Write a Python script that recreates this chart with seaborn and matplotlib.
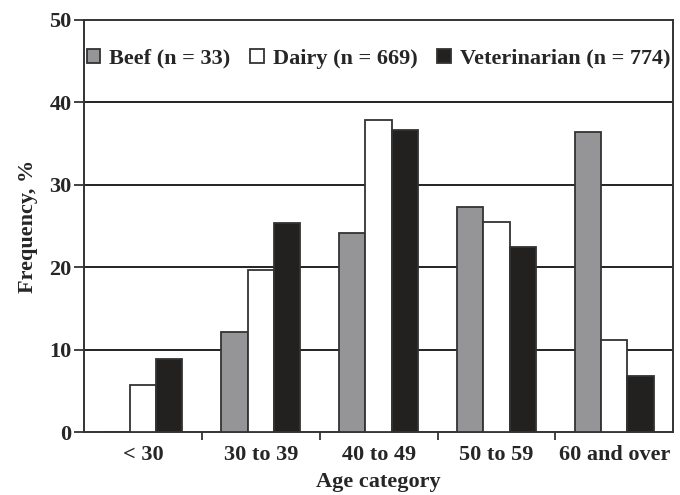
# Age distribution of beef / dairy producers and veterinarians
import pandas            as pd
import matplotlib.pyplot as plt
import seaborn           as sns
from matplotlib.ticker import FixedLocator

categories = ["< 30", "30 to 39", "40 to 49", "50 to 59", "60 and over"]
groups     = ["Beef (n = 33)", "Dairy (n = 669)", "Veterinarian (n = 774)"]
beef       = [0.0, 12.1, 24.2, 27.3, 36.4]
dairy      = [5.7, 19.6, 37.9, 25.5, 11.2]
vet        = [8.9, 25.3, 36.6, 22.4, 6.8]
colors     = ["#949599", "#ffffff", "#231f20"]

df = pd.DataFrame({
  "Age category": categories * 3,
  "Group":        [groups[0]] * 5 + [groups[1]] * 5 + [groups[2]] * 5,
  "Frequency":    beef + dairy + vet,
})

sns.set_theme(style="white")
plt.rcParams["font.family"] = ["Liberation Serif", "DejaVu Serif"]
plt.rcParams["font.weight"] = "bold"
fs = 16

fig = plt.figure(figsize=(6.8, 4.95), dpi=100)
ax = fig.add_axes([0.1235, 0.127, 0.8665, 0.833])

sns.barplot(data=df, x="Age category", y="Frequency", hue="Group",
            hue_order=groups, order=categories, palette=colors,
            width=0.67, edgecolor="#333333", linewidth=1.3, ax=ax,
            zorder=3)

# horizontal rules behind the bars
for y in [10, 20, 30, 40]:
  ax.axhline(y, color="#222222", lw=1.4, zorder=1)

ax.set_ylim(0, 50)
ax.set_xlim(-0.5, 4.5)
ax.set_yticks([0, 10, 20, 30, 40, 50])
ax.tick_params(axis="y", direction="out", length=7, width=1.3, color="#333333",
               left=True, labelsize=fs, pad=2)
ax.tick_params(axis="x", which="major", length=0, labelsize=fs, pad=9)
ax.xaxis.set_minor_locator(FixedLocator([0.5, 1.5, 2.5, 3.5]))
ax.tick_params(axis="x", which="minor", direction="out", length=6, width=1.3,
               color="#333333", bottom=True)
for lbl in ax.get_xticklabels() + ax.get_yticklabels():
  lbl.set_fontweight("bold")

for s in ax.spines.values():
  s.set_visible(True)
  s.set_color("#333333")
  s.set_linewidth(1.4)

ax.set_xlabel("Age category", fontsize=fs, fontweight="bold", labelpad=5)
ax.set_ylabel("Frequency, %", fontsize=fs, fontweight="bold", labelpad=8)

ax.legend(loc="center", bbox_to_anchor=(0.5, 0.906), ncol=3, frameon=False,
          handlelength=0.6, handleheight=0.6, handletextpad=0.4,
          columnspacing=0.9, borderaxespad=0.0,
          prop={"weight": "bold", "size": fs})

fig.savefig("out.png", dpi=100)
